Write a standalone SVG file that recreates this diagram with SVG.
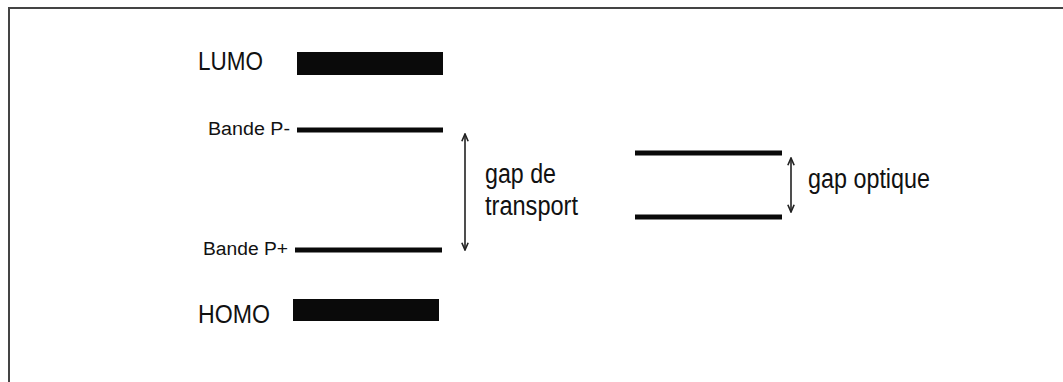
<svg xmlns="http://www.w3.org/2000/svg" width="1063" height="382" viewBox="0 0 1063 382">
  <defs>
    <style>
      .lbl { font-family: "Liberation Sans", Arial, sans-serif; fill: #111; }
      .bar { fill: #0a0a0a; }
      .lvl { stroke: #0a0a0a; stroke-width: 5; }
      .dim { stroke: #222; stroke-width: 1.6; fill: none; }
    </style>
    <marker id="open" viewBox="0 0 10 10" refX="9" refY="5" markerWidth="9" markerHeight="9" markerUnits="userSpaceOnUse" orient="auto-start-reverse">
      <path d="M1,1.5 L9,5 L1,8.5" fill="none" stroke="#222" stroke-width="1.8"/>
    </marker>
  </defs>

  <rect width="1063" height="382" fill="#fff"/>
  <!-- outer frame: top and left edges only -->
  <path d="M9,382 V8 H1063" fill="none" stroke="#444" stroke-width="2"/>

  <g id="lumo">
    <rect class="bar" x="297" y="52" width="146" height="23"/>
    <text class="lbl" x="198" y="70" font-size="26" textLength="65" lengthAdjust="spacingAndGlyphs">LUMO</text>
  </g>

  <g id="bande-p-moins">
    <line class="lvl" x1="297" y1="130" x2="443" y2="130"/>
    <text class="lbl" x="208" y="135" font-size="18" textLength="82" lengthAdjust="spacingAndGlyphs">Bande P-</text>
  </g>

  <g id="bande-p-plus">
    <line class="lvl" x1="295" y1="250" x2="442" y2="250"/>
    <text class="lbl" x="203" y="255" font-size="18" textLength="85" lengthAdjust="spacingAndGlyphs">Bande P+</text>
  </g>

  <g id="homo">
    <rect class="bar" x="293" y="299" width="146" height="22"/>
    <text class="lbl" x="198" y="323" font-size="26" textLength="72" lengthAdjust="spacingAndGlyphs">HOMO</text>
  </g>

  <g id="optique-haut">
    <line class="lvl" x1="635" y1="153" x2="782" y2="153"/>
  </g>

  <g id="optique-bas">
    <line class="lvl" x1="635" y1="217" x2="782" y2="217"/>
  </g>

  <g id="connectors">
    <line class="dim" x1="465" y1="134" x2="465" y2="250" marker-start="url(#open)" marker-end="url(#open)"/>
    <line class="dim" x1="791" y1="158" x2="791" y2="212" marker-start="url(#open)" marker-end="url(#open)"/>
  </g>

  <g id="label-transport">
    <text class="lbl" x="485" y="183" font-size="27" textLength="71" lengthAdjust="spacingAndGlyphs">gap de</text>
    <text class="lbl" x="485" y="215" font-size="27" textLength="93" lengthAdjust="spacingAndGlyphs">transport</text>
  </g>

  <g id="label-optique">
    <text class="lbl" x="808" y="188" font-size="27" textLength="122" lengthAdjust="spacingAndGlyphs">gap optique</text>
  </g>
</svg>
